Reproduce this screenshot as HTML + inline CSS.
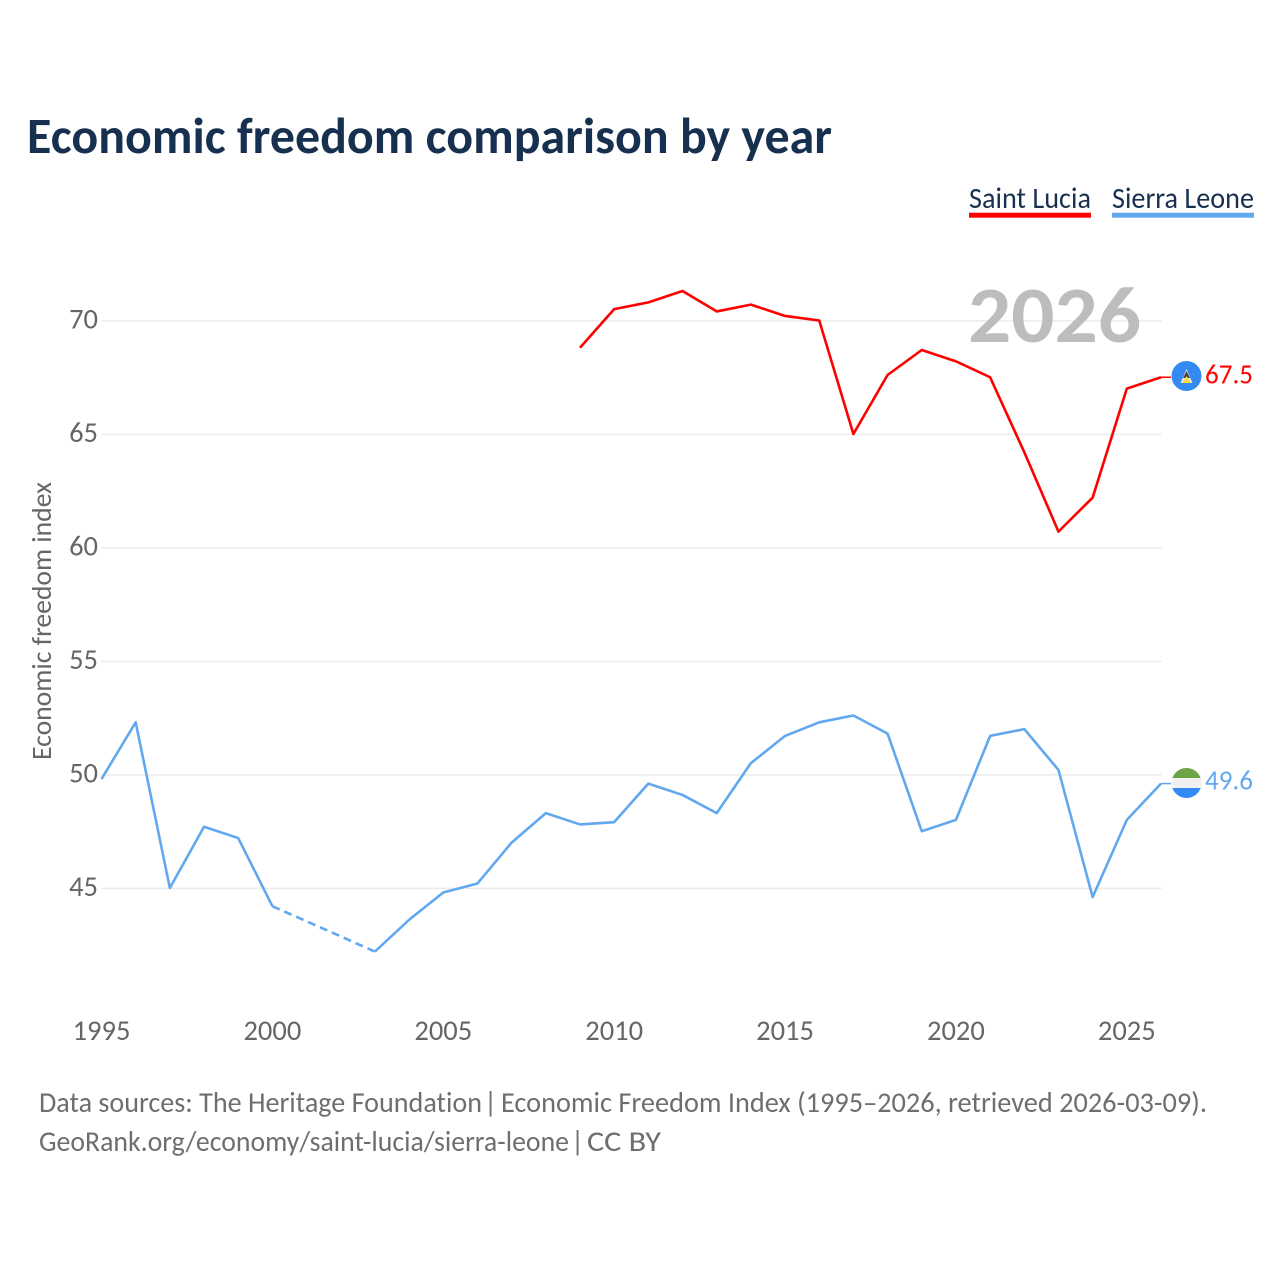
<!DOCTYPE html>
<html lang="en">
<head>
<meta charset="utf-8">
<title>Economic freedom comparison by year</title>
<style>
html,body{margin:0;padding:0;background:#fff;}
svg{display:block;font-family:"Carlito","Lato","Liberation Sans",sans-serif;font-variant-ligatures:none;}
</style>
</head>
<body>
<svg id="chart" xmlns="http://www.w3.org/2000/svg" width="1280" height="1280" viewBox="0 0 1280 1280">
  <rect x="0" y="0" width="1280" height="1280" fill="#fff"/>
  <text x="27" y="153" font-size="51" font-weight="700" fill="#18304f" textLength="805" lengthAdjust="spacingAndGlyphs">Economic freedom comparison by year</text>

  <g>
    <text x="969" y="208" font-size="29.5" fill="#18304f" textLength="122" lengthAdjust="spacingAndGlyphs">Saint Lucia</text>
    <rect x="969" y="212.7" width="122" height="5" fill="#ff0000"/>
  </g>
  <g>
    <text x="1112" y="208" font-size="29.5" fill="#18304f" textLength="142" lengthAdjust="spacingAndGlyphs">Sierra Leone</text>
    <rect x="1112" y="212.7" width="142" height="5" fill="#62a8ee"/>
  </g>

  <g id="grid"></g>
  <text x="968" y="342" font-size="80" font-weight="700" fill="#bdbdbd" textLength="173" lengthAdjust="spacingAndGlyphs">2026</text>
  <g id="yticks"></g>
  <g id="xticks"></g>
  <text transform="translate(51,760) rotate(-90)" font-size="27.5" fill="#666" textLength="278" lengthAdjust="spacingAndGlyphs">Economic freedom index</text>

  <g id="series"></g>

  <g id="flag-lc">
    <defs>
      <clipPath id="clip-sl"><circle cx="1186.5" cy="783" r="15"/></clipPath>
    </defs>
    <circle cx="1186.5" cy="376" r="15" fill="#338af3"/>
    <polygon points="1186.5,369 1192.5,383 1180.5,383" fill="#e8e8e8"/>
    <polygon points="1186.5,371 1190,378 1183,378" fill="#444"/>
    <polygon points="1186.5,376 1191,383 1182,383" fill="#ffda44"/>
  </g>
  <g id="flag-sl" clip-path="url(#clip-sl)">
    <rect x="1171" y="768" width="31" height="10" fill="#6da544"/>
    <rect x="1171" y="778" width="31" height="10" fill="#f0f0f0"/>
    <rect x="1171" y="788" width="31" height="10" fill="#338af3"/>
  </g>

  <text id="end-lc" x="1205" y="383.5" font-size="27.5" fill="#ff0000" textLength="48" lengthAdjust="spacingAndGlyphs"></text>
  <text id="end-sl" x="1205" y="789.5" font-size="27.5" fill="#62a8ee" textLength="48" lengthAdjust="spacingAndGlyphs"></text>

  <g font-size="28.5" fill="#6e6e6e">
    <text x="39" y="1112" textLength="443" lengthAdjust="spacingAndGlyphs">Data sources: The Heritage Foundation</text>
    <text x="484" y="1112">|</text>
    <text x="501" y="1112" textLength="706" lengthAdjust="spacingAndGlyphs">Economic Freedom Index (1995–2026, retrieved 2026-03-09).</text>
  </g>
  <g font-size="28.5" fill="#6e6e6e">
    <text x="39" y="1151" textLength="530" lengthAdjust="spacingAndGlyphs">GeoRank.org/economy/saint-lucia/sierra-leone</text>
    <text x="571" y="1151">|</text>
    <text x="587" y="1151" textLength="74" lengthAdjust="spacingAndGlyphs">CC BY</text>
  </g>
</svg>
<script>
var years = [1995,1996,1997,1998,1999,2000,2001,2002,2003,2004,2005,2006,2007,2008,2009,2010,2011,2012,2013,2014,2015,2016,2017,2018,2019,2020,2021,2022,2023,2024,2025,2026];
var saintLucia = [null,null,null,null,null,null,null,null,null,null,null,null,null,null,68.8,70.5,70.8,71.3,70.4,70.7,70.2,70.0,65.0,67.6,68.7,68.2,67.5,64.2,60.7,62.2,67.0,67.5];
var sierraLeone = [49.8,52.3,45.0,47.7,47.2,44.2,null,null,42.2,43.6,44.8,45.2,47.0,48.3,47.8,47.9,49.6,49.1,48.3,50.5,51.7,52.3,52.6,51.8,47.5,48.0,51.7,52.0,50.2,44.6,48.0,49.6];
var yTickValues = [45,50,55,60,65,70];
var xTickValues = [1995,2000,2005,2010,2015,2020,2025];

var SVGNS = 'http://www.w3.org/2000/svg';
function xScale(year){ return 101.5 + (year - 1995) * (1161 - 101.5) / 31; }
function yScale(v){ return 888 - (v - 45) * (888 - 320.5) / 25; }
function make(tag, parent){
  var el = document.createElementNS(SVGNS, tag);
  parent.appendChild(el);
  return el;
}

var gridG = document.getElementById('grid');
var yG = document.getElementById('yticks');
yTickValues.forEach(function(v){
  var line = make('line', gridG);
  
  
  line.setAttribute('x1', 101.5);
  line.setAttribute('x2', 1161.5);
  line.setAttribute('y1', yScale(v) + 0.4);
  line.setAttribute('y2', yScale(v) + 0.4);
  line.setAttribute('stroke', '#ebebeb');
  line.setAttribute('stroke-width', '1.5');
  var t = make('text', yG);
  
  
  t.setAttribute('x', 98);
  t.setAttribute('y', yScale(v) + 8);
  t.setAttribute('text-anchor', 'end');
  t.setAttribute('font-size', '28.5');
  t.setAttribute('fill', '#666');
  t.textContent = v;
});

var xG = document.getElementById('xticks');
xTickValues.forEach(function(y){
  var t = make('text', xG);
  
  
  t.setAttribute('x', xScale(y));
  t.setAttribute('y', 1040);
  t.setAttribute('text-anchor', 'middle');
  t.setAttribute('font-size', '28.5');
  t.setAttribute('fill', '#666');
  t.textContent = y;
});

function drawSeries(values, color, name){
  var g = document.getElementById('series');
  var run = [];
  var lastPoint = null;
  function flush(){
    if (run.length > 1) {
      var p = make('polyline', g);
      
      
      p.setAttribute('points', run.join(' '));
      p.setAttribute('fill', 'none');
      p.setAttribute('stroke', color);
      p.setAttribute('stroke-width', '2.6');
      p.setAttribute('stroke-linejoin', 'round');
    }
    run = [];
  }
  values.forEach(function(v, i){
    if (v === null) { flush(); return; }
    var pt = [xScale(years[i]), yScale(v)];
    if (lastPoint && lastPoint.i !== i - 1) {
      var d = make('line', g);
      
      
      d.setAttribute('x1', lastPoint.pt[0]);
      d.setAttribute('y1', lastPoint.pt[1]);
      d.setAttribute('x2', pt[0]);
      d.setAttribute('y2', pt[1]);
      d.setAttribute('stroke', color);
      d.setAttribute('stroke-width', '2.6');
      d.setAttribute('stroke-dasharray', '8 5');
    }
    run.push(pt.join(','));
    lastPoint = {i: i, pt: pt};
  });
  flush();
  var lead = make('line', g);
  
  
  lead.setAttribute('x1', lastPoint.pt[0]);
  lead.setAttribute('y1', lastPoint.pt[1]);
  lead.setAttribute('x2', lastPoint.pt[0] + 10);
  lead.setAttribute('y2', lastPoint.pt[1]);
  lead.setAttribute('stroke', color);
  lead.setAttribute('stroke-width', '1.5');
}
drawSeries(saintLucia, '#ff0000', 'saint-lucia');
drawSeries(sierraLeone, '#62a8ee', 'sierra-leone');

document.getElementById('end-lc').textContent = saintLucia[saintLucia.length - 1].toFixed(1);
document.getElementById('end-sl').textContent = sierraLeone[sierraLeone.length - 1].toFixed(1);
</script>
</body>
</html>
